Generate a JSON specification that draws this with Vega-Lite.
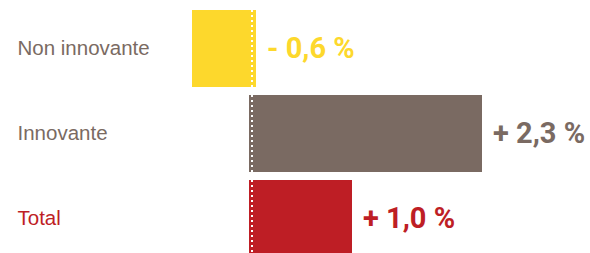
{
  "$schema": "https://vega.github.io/schema/vega-lite/v6.json",
  "width": 590,
  "height": 253,
  "autosize": {"type": "none"},
  "padding": 0,
  "background": "white",
  "view": {"stroke": null},
  "data": {"values": [
    {"cat": "Non innovante", "value": -0.6, "label": "- 0,6 %"},
    {"cat": "Innovante", "value": 2.3, "label": "+ 2,3 %"},
    {"cat": "Total", "value": 1.0, "label": "+ 1,0 %"}
  ]},
  "encoding": {
    "y": {
      "field": "cat", "type": "nominal", "sort": null,
      "scale": {"domain": ["Non innovante", "Innovante", "Total"], "range": [6, 261], "paddingInner": 0.094, "paddingOuter": 0.047},
      "axis": {
        "title": null, "domain": false, "ticks": false, "labelAlign": "left", "labelPadding": -17,
        "labelFont": "Liberation Sans", "labelFontSize": 20.5, "labelBaseline": "middle",
        "labelColor": {"condition": {"test": "datum.value === 'Total'", "value": "#be1e25"}, "value": "#7a6a62"}
      }
    }
  },
  "layer": [
    {
      "transform": [{"filter": "datum.value > 0"}],
      "mark": {"type": "bar", "x2Offset": -3, "clip": true},
      "encoding": {
        "x": {"field": "value", "type": "quantitative", "scale": {"domain": [-2.52, 3.38], "nice": false, "zero": false}, "axis": null},
        "x2": {"datum": 0},
        "color": {"field": "cat", "type": "nominal", "scale": {"domain": ["Non innovante", "Innovante", "Total"], "range": ["#fdd82c", "#7a6a62", "#be1e25"]}, "legend": null}
      }
    },
    {
      "transform": [{"filter": "datum.value < 0"}],
      "mark": {"type": "bar", "x2Offset": 4, "clip": true},
      "encoding": {
        "x": {"field": "value", "type": "quantitative"},
        "x2": {"datum": 0},
        "color": {"field": "cat", "type": "nominal", "legend": null}
      }
    },
    {
      "mark": {"type": "rule", "stroke": "white", "strokeWidth": 2, "strokeDash": [2, 3], "strokeCap": "butt", "clip": true},
      "encoding": {
        "x": {"datum": 0},
        "y": {"field": "cat", "type": "nominal", "bandPosition": 0},
        "y2": {"field": "cat", "bandPosition": 1}
      }
    },
    {
      "transform": [{"filter": "datum.value > 0"}],
      "mark": {"type": "text", "align": "left", "baseline": "middle", "dx": 11, "font": "Roboto", "fontWeight": "bold", "fontSize": 29},
      "encoding": {
        "x": {"field": "value", "type": "quantitative"},
        "text": {"field": "label"},
        "color": {"field": "cat", "type": "nominal", "legend": null}
      }
    },
    {
      "transform": [{"filter": "datum.value < 0"}],
      "mark": {"type": "text", "align": "left", "baseline": "middle", "dx": 15, "font": "Roboto", "fontWeight": "bold", "fontSize": 29},
      "encoding": {
        "x": {"datum": 0},
        "text": {"field": "label"},
        "color": {"field": "cat", "type": "nominal", "legend": null}
      }
    }
  ]
}
